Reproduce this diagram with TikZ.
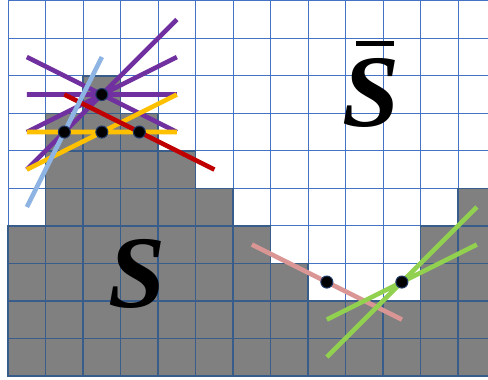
\documentclass[tikz,border=0pt]{standalone}
\usepackage{fontspec}
\setmainfont{Liberation Serif}
\definecolor{gridblue}{HTML}{4472C4}
\definecolor{celledge}{HTML}{385D8A}
\definecolor{cellgray}{HTML}{808080}
\definecolor{purp}{HTML}{7030A0}
\definecolor{amber}{HTML}{FFC000}
\definecolor{darkred}{HTML}{C00000}
\definecolor{skyblue}{HTML}{8DB4E2}
\definecolor{rose}{HTML}{DA9694}
\definecolor{leaf}{HTML}{92D050}
\definecolor{dotedge}{HTML}{1F3864}
\begin{document}
\begin{tikzpicture}[scale=1, line join=miter, line cap=butt,
    gridline/.style={gridblue, line width=0.6pt},
    cell/.style={fill=cellgray, draw=celledge, line width=1.1pt},
    ray/.style={line width=3.5pt},
    pt/.style={circle, fill=black, draw=dotedge, line width=0.8pt, minimum size=0.32cm, inner sep=0pt},
    setname/.style={inner sep=0pt, anchor=base, font=\fontsize{78}{80}\selectfont\bfseries\itshape}]
	\useasboundingbox (-0.216,-0.112) rectangle (12.797,10.021);
	\clip (-0.216,-0.112) rectangle (12.797,10.021);
	% grid
	\draw[gridline] (0,0) grid (13,10.5);
	% the set S, column heights
	\foreach \h [count=\c from 0] in {4,7,8,7,6,5,4,3,2,2,2,4,5}
		\foreach \r in {1,...,\h}
			\draw[cell] (\c,\r-1) rectangle ++(1,1);
	% lines through the points
	\draw[ray, purp] (0.5,8.5)--(4.5,6.5) (0.5,7.5)--(4.5,7.5) (0.5,5.5)--(4.5,9.5) (0.5,6.5)--(4.5,8.5);
	\draw[ray, amber] (0.5,6.5)--(4.5,6.5) (0.5,5.5)--(4.5,7.5);
	\draw[ray, darkred] (1.5,7.5)--(5.5,5.5);
	\draw[ray, skyblue] (0.5,4.5)--(2.5,8.5);
	\draw[ray, rose] (6.5,3.5)--(10.5,1.5);
	\draw[ray, leaf] (8.5,0.5)--(12.5,4.5) (8.5,1.5)--(12.5,3.5);
	% points
	\node[pt] (p1) at (1.5,6.5) {};
	\node[pt] (p2) at (2.5,6.5) {};
	\node[pt] (p3) at (3.5,6.5) {};
	\node[pt] (top) at (2.5,7.5) {};
	\node[pt] (q1) at (8.5,2.5) {};
	\node[pt] (q2) at (10.5,2.5) {};
	% labels
	\node[setname] (S) at (3.437,1.81) {S};
	\node[setname] (Sbar) at (9.685,6.65) {\rlap{\hspace{0.13em}\rule[0.78em]{0.37em}{0.055em}}S};
\end{tikzpicture}
\end{document}
